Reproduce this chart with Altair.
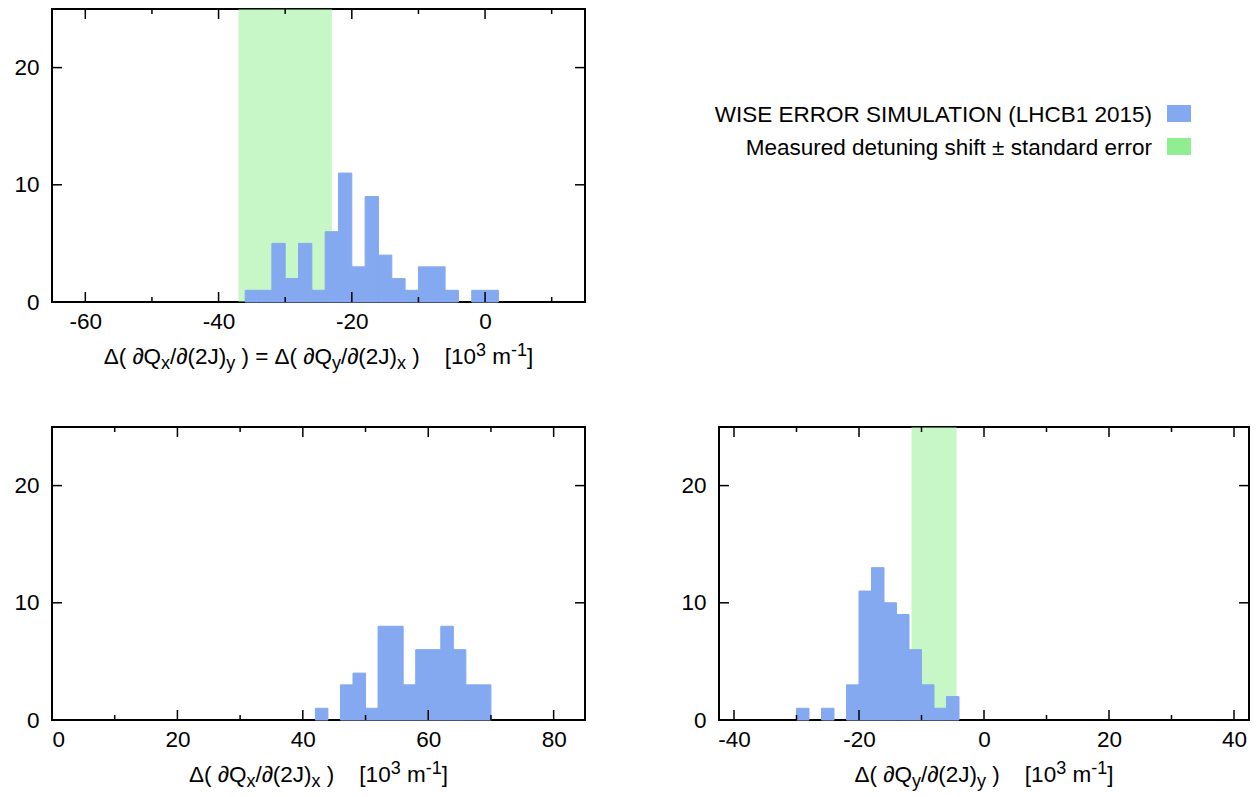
import altair as alt
import pandas as pd

FONT = "Liberation Sans"
BLUE = "#84A9F0"
GREEN = "#90EE90"
FS = 22.5
SFS = 18

# ---------------- data ----------------
BIN_WIDTH = 2
tl_bin_start = [-36, -34, -32, -30, -28, -26, -24, -22, -20, -18, -16, -14, -12, -10, -8, -6, -2, 0]
tl_counts = [1, 1, 5, 2, 5, 1, 6, 11, 3, 9, 4, 2, 1, 3, 3, 1, 1, 1]
bl_bin_start = [42, 46, 48, 50, 52, 54, 56, 58, 60, 62, 64, 66, 68]
bl_counts = [1, 3, 4, 1, 8, 8, 3, 6, 6, 8, 6, 3, 3]
br_bin_start = [-30, -26, -22, -20, -18, -16, -14, -12, -10, -8, -6]
br_counts = [1, 1, 3, 11, 13, 10, 9, 6, 3, 1, 2]

tl_band = [-37, -23]
br_band = [-11.6, -4.4]

tl_domain = [-65, 15]
bl_domain = [0, 85]
br_domain = [-42.4, 42.4]
y_domain = [0, 25]
y_ticks = [0, 10, 20]

tl_major = [-60, -40, -20, 0]
tl_minor = [-50, -30, -10, 10]
bl_major = [0, 20, 40, 60, 80]
bl_minor = [10, 30, 50, 70]
br_major = [-40, -20, 0, 20, 40]
br_minor = [-30, -10, 10, 30]

legend_labels = ["WISE ERROR SIMULATION (LHCB1 2015)",
                 "Measured detuning shift \u00b1 standard error"]
legend_colors = [BLUE, GREEN]

tl_title = [("\u0394( \u2202Q", "n"), ("x", "sub"), ("/\u2202(2J)", "n"), ("y", "sub"),
            (" ) = \u0394( \u2202Q", "n"), ("y", "sub"), ("/\u2202(2J)", "n"), ("x", "sub"),
            (" )    [10", "n"), ("3", "sup"), (" m", "n"), ("-1", "sup"), ("]", "n")]
bl_title = [("\u0394( \u2202Q", "n"), ("x", "sub"), ("/\u2202(2J)", "n"), ("x", "sub"),
            (" )    [10", "n"), ("3", "sup"), (" m", "n"), ("-1", "sup"), ("]", "n")]
br_title = [("\u0394( \u2202Q", "n"), ("y", "sub"), ("/\u2202(2J)", "n"), ("y", "sub"),
            (" )    [10", "n"), ("3", "sup"), (" m", "n"), ("-1", "sup"), ("]", "n")]

# Arial / Liberation Sans advance widths (1/1000 em)
ADV = {' ': 278, '(': 333, ')': 333, '\u0394': 668, '\u2202': 494, 'Q': 778, 'x': 500,
       'y': 500, '/': 278, '2': 556, 'J': 500, '=': 584, '[': 278, ']': 278, '1': 556,
       '0': 556, '3': 556, 'm': 833, '-': 333}

H = 293
WL = 533
WR = 530


def text_mark(word, px, py, size):
    return alt.Chart(pd.DataFrame({"t": [word]})).mark_text(
        align="left", baseline="alphabetic", font=FONT, fontSize=size, color="black"
    ).encode(x=alt.value(px), y=alt.value(py), text="t:N")


def title_layers(tokens, W):
    total = 0.0
    for text, kind in tokens:
        size = FS if kind == "n" else SFS
        total += sum(ADV[c] for c in text) * size / 1000
    x = W / 2 - total / 2
    base = H + 62
    out = []
    for text, kind in tokens:
        size = FS if kind == "n" else SFS
        y = base + (5 if kind == "sub" else (-8 if kind == "sup" else 0))
        word, wstart = "", x
        for ch in text:
            if ch == " ":
                if word:
                    out.append(text_mark(word, wstart, y, size))
                    word = ""
                x += ADV[ch] * size / 1000
            else:
                if not word:
                    wstart = x
                word += ch
                x += ADV[ch] * size / 1000
        if word:
            out.append(text_mark(word, wstart, y, size))
    return out


def panel(starts, counts, domain, band, W, major, minor, title):
    xs = alt.Scale(domain=domain, nice=False, zero=False)
    ys = alt.Scale(domain=y_domain, nice=False, zero=False)
    xaxis = alt.Axis(values=major, title=None, labelPadding=8, labelExpr="'' + datum.value")
    yaxis = alt.Axis(values=y_ticks, title=None, labelPadding=13, labelExpr="'' + datum.value")
    layers = []
    if band:
        bdf = pd.DataFrame({"lo": [band[0]], "hi": [band[1]]})
        layers.append(alt.Chart(bdf).mark_rect(color=GREEN, opacity=0.5).encode(
            x=alt.X("lo:Q", scale=xs, axis=xaxis), x2="hi:Q",
            y=alt.value(0), y2=alt.value(H)))
    df = pd.DataFrame({"start": starts, "end": [s + BIN_WIDTH for s in starts], "count": counts})
    layers.append(alt.Chart(df).mark_rect(color=BLUE, stroke=BLUE, strokeWidth=1).encode(
        x=alt.X("start:Q", scale=xs, axis=xaxis), x2="end:Q",
        y=alt.Y("count:Q", scale=ys, axis=yaxis), y2=alt.datum(0)))
    # inward ticks
    for vals, L in ((major, 10), (minor, 5)):
        tdf = pd.DataFrame({"v": vals})
        base = alt.Chart(tdf).mark_rule(color="black", strokeWidth=1.5)
        layers.append(base.encode(x=alt.X("v:Q", scale=xs, axis=xaxis),
                                  y=alt.value(H), y2=alt.value(H - L)))
        layers.append(base.encode(x=alt.X("v:Q", scale=xs, axis=xaxis),
                                  y=alt.value(0), y2=alt.value(L)))
    ydf = pd.DataFrame({"v": y_ticks})
    ybase = alt.Chart(ydf).mark_rule(color="black", strokeWidth=1.5)
    layers.append(ybase.encode(y=alt.Y("v:Q", scale=ys, axis=yaxis),
                               x=alt.value(0), x2=alt.value(10)))
    layers.append(ybase.encode(y=alt.Y("v:Q", scale=ys, axis=yaxis),
                               x=alt.value(W), x2=alt.value(W - 10)))
    layers += title_layers(title, W)
    return alt.layer(*layers).properties(width=W, height=H)


tl = panel(tl_bin_start, tl_counts, tl_domain, tl_band, WL, tl_major, tl_minor, tl_title)
bl = panel(bl_bin_start, bl_counts, bl_domain, None, WL, bl_major, bl_minor, bl_title)
br = panel(br_bin_start, br_counts, br_domain, br_band, WR, br_major, br_minor, br_title)

# legend cell (top right)
leg_layers = []
for i, (lab, col) in enumerate(zip(legend_labels, legend_colors)):
    ldf = pd.DataFrame({"t": [lab]})
    ytxt = 113 + 33 * i
    leg_layers.append(alt.Chart(ldf).mark_text(
        align="right", baseline="alphabetic", font=FONT, fontSize=FS, color="black"
    ).encode(x=alt.value(433), y=alt.value(ytxt), text="t:N"))
    leg_layers.append(alt.Chart(ldf).mark_rect(color=col).encode(
        x=alt.value(448), x2=alt.value(472), y=alt.value(ytxt - 17), y2=alt.value(ytxt)))
legend = alt.layer(*leg_layers).properties(
    width=WR, height=H, view=alt.ViewBackground(stroke="transparent"))

chart = alt.concat(
    tl, legend, bl, br,
    columns=2,
    spacing=alt.RowColnumber(row=125, column=134),
    bounds="flush",
).properties(
    padding={"left": 12, "top": 7, "right": 0, "bottom": 0},
    background="white",
).configure_view(
    stroke="black", strokeWidth=2
).configure_axis(
    labelFont=FONT, labelFontSize=FS, labelColor="black", grid=False,
    domain=False, ticks=False, tickSize=0
)

chart.save("out.html", embed_options={"renderer": "svg", "actions": False})
